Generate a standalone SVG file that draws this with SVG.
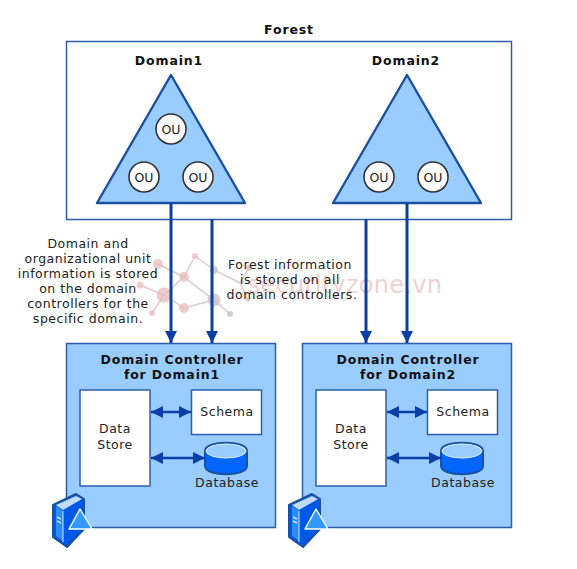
<svg xmlns="http://www.w3.org/2000/svg" xmlns:xlink="http://www.w3.org/1999/xlink" width="577" height="569" viewBox="0 0 577 569">
<style>
text{font-family:"DejaVu Sans",Verdana,sans-serif;font-size:12.5px;fill:#222;text-anchor:middle;letter-spacing:.52px}
.b{font-weight:700;fill:#111;letter-spacing:.85px}
.o{letter-spacing:0}
.box{fill:#99ccff;stroke:#2f5dab;stroke-width:1.5}
.w{fill:#fff;stroke:#2f5dab;stroke-width:1.5}
.tri{fill:#99ccff;stroke:#1c4f9e;stroke-width:2.4;stroke-linejoin:round}
.ou{fill:#fff;stroke:#333;stroke-width:1.6}
.c{stroke:#0a3fa8;stroke-width:3;fill:none}
.s{stroke-width:2.4}
.p{fill:#e8bcbc;opacity:.75}
.g{fill:#cfc6c8;opacity:.85}
.wl{stroke:#e3c6c6;stroke-width:1.4;fill:none}
.wt{font-size:24px;fill:#f0d2d2;letter-spacing:.3px}
</style>
<defs>
<marker id="ah" markerUnits="userSpaceOnUse" markerWidth="14" markerHeight="14" refX="12" refY="6" orient="auto-start-reverse"><path d="M0 0L12 6L0 12Z" fill="#0a3fa8"/></marker>
<g id="db"><path d="M-21 -7C-21 -18 21 -18 21 -7V8C21 19 -21 19 -21 8Z" fill="#0066ff" stroke="#1c4f9e" stroke-width="2"/><ellipse cx="0" cy="-7" rx="20" ry="7" fill="#99ccff" stroke="#e6f2ff" stroke-width="1"/></g>
<g id="srv"><path d="M1 12L24 1L32 6V36L15 54L1 44Z" fill="#0058e6" stroke="#1c4f9e" stroke-width="2" stroke-linejoin="round"/><path d="M4 13L11 18V48L4 43Z" fill="#2f8cff"/><path d="M4 12L24 3L30 6L11 17Z" fill="#bfdcff"/><path d="M11 18V49" stroke="#cfe6ff" stroke-width="1"/><path d="M5 24L9 26M5 28L9 30" stroke="#fff" stroke-width="1.2"/><path d="M28 16L40 36H17Z" fill="#3399ff" stroke="#fff" stroke-width="1.4" stroke-linejoin="round"/></g>
</defs>
<rect width="577" height="569" fill="#fff"/>
<g id="watermark">
<path class="wl" d="M158 264L184 277L164 295L184 308L214 300L184 277L195 256L214 270L240 283L249 268M240 283L248 300M214 300L230 314M140 285L164 295L152 313"/>
<circle class="p" cx="158" cy="264" r="5"/><circle class="p" cx="184" cy="277" r="5"/><circle class="p" cx="195" cy="256" r="3"/><circle class="p" cx="164" cy="295" r="7.500"/><circle class="p" cx="140" cy="285" r="3.500"/><circle class="p" cx="184" cy="308" r="5"/><circle class="p" cx="152" cy="313" r="3"/><circle class="g" cx="214" cy="270" r="4"/><circle class="g" cx="214" cy="300" r="6.500"/><circle class="g" cx="230" cy="314" r="3"/><circle class="g" cx="249" cy="268" r="3"/><circle class="g" cx="248" cy="300" r="2"/>
<text class="wt" x="345" y="293">securityzone.vn</text>
</g>
<g id="forest"><rect class="w" x="66.500" y="41.500" width="445" height="178" fill-opacity="0" style="fill:none"/><text class="b" x="289" y="34">Forest</text></g>
<g id="domain1"><path class="tri" d="M171 75L245 203H97Z"/><text class="b" x="169" y="65">Domain1</text>
<circle class="ou" cx="171" cy="129" r="15"/><text class="o" x="171" y="134">OU</text><circle class="ou" cx="144" cy="177" r="15"/><text class="o" x="144" y="182">OU</text><circle class="ou" cx="198" cy="177" r="15"/><text class="o" x="198" y="182">OU</text></g>
<g id="domain2"><path class="tri" d="M407 75L481 203H333Z"/><text class="b" x="406" y="65">Domain2</text>
<circle class="ou" cx="379" cy="177" r="15"/><text class="o" x="379" y="182">OU</text><circle class="ou" cx="433" cy="177" r="15"/><text class="o" x="433" y="182">OU</text></g>
<g id="note1"><text x="88" y="248">Domain and</text><text x="88" y="263">organizational unit</text><text x="88" y="278">information is stored</text><text x="88" y="293">on the domain</text><text x="88" y="308">controllers for the</text><text x="88" y="323">specific domain.</text></g>
<g id="note2"><text x="290" y="269">Forest information</text><text x="290" y="284">is stored on all</text><text x="292" y="299">domain controllers.</text></g>
<g id="dc1"><rect class="box" x="66.500" y="343.500" width="209" height="184"/><text class="b" x="172" y="364">Domain Controller</text><text class="b" x="172" y="379">for Domain1</text>
<rect class="w" x="80" y="390" width="70" height="96"/><text x="115" y="433">Data</text><text x="115" y="449">Store</text><rect class="w" x="191.500" y="390" width="70" height="44.500"/><text x="227" y="416">Schema</text>
<use xlink:href="#db" href="#db" x="226" y="458"/><text x="227" y="487">Database</text>
<use xlink:href="#srv" href="#srv" x="52" y="493"/></g>
<g id="dc2"><rect class="box" x="302.500" y="343.500" width="209" height="184"/><text class="b" x="408" y="364">Domain Controller</text><text class="b" x="408" y="379">for Domain2</text>
<rect class="w" x="316" y="390" width="70" height="96"/><text x="351" y="433">Data</text><text x="351" y="449">Store</text><rect class="w" x="427.500" y="390" width="70" height="44.500"/><text x="463" y="416">Schema</text>
<use xlink:href="#db" href="#db" x="462" y="458"/><text x="463" y="487">Database</text>
<use xlink:href="#srv" href="#srv" x="288" y="493"/></g>
<g id="connectors">
<path class="c" marker-end="url(#ah)" d="M171 203V343"/><path class="c" marker-end="url(#ah)" d="M212 219V343"/><path class="c" marker-end="url(#ah)" d="M366 219V343"/><path class="c" marker-end="url(#ah)" d="M407 203V343"/>
<path class="c s" marker-start="url(#ah)" marker-end="url(#ah)" d="M151 412H191"/><path class="c s" marker-start="url(#ah)" marker-end="url(#ah)" d="M151 458H205"/>
<path class="c s" marker-start="url(#ah)" marker-end="url(#ah)" d="M387 412H427"/><path class="c s" marker-start="url(#ah)" marker-end="url(#ah)" d="M387 458H441"/>
</g>
</svg>
